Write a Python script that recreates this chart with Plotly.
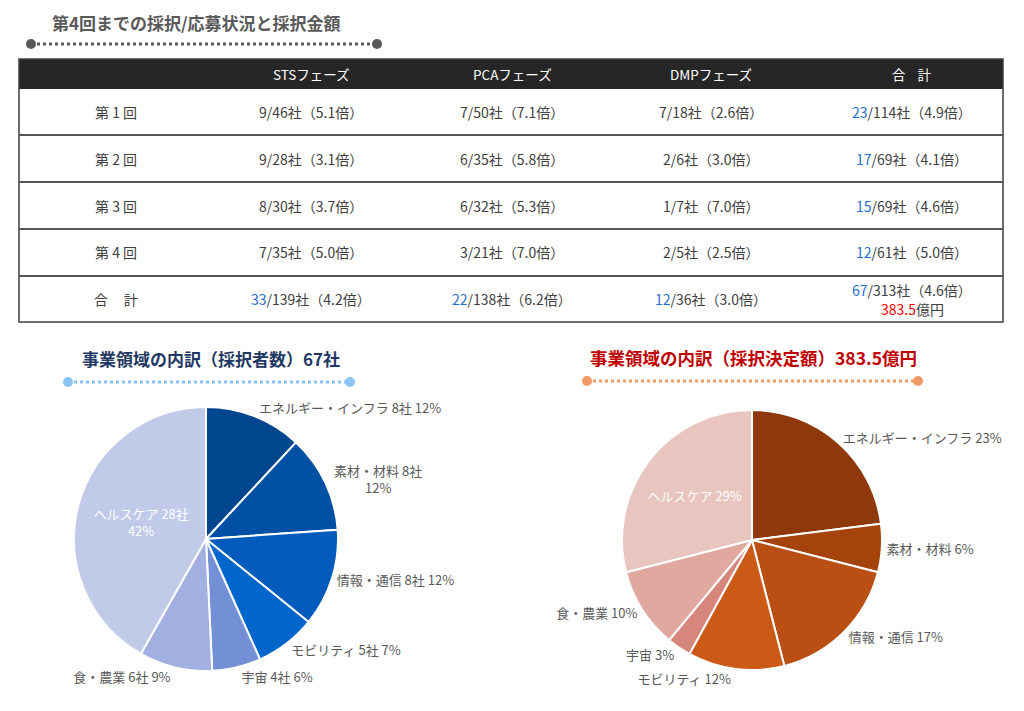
import plotly.graph_objects as go

# ---------------- data ----------------
rounds = ["第\u00a01\u00a0回", "第\u00a02\u00a0回", "第\u00a03\u00a0回", "第\u00a04\u00a0回"]
total_label = "合\u00a0\u00a0\u00a0\u00a0\u00a0計"
phases = ["STSフェーズ", "PCAフェーズ", "DMPフェーズ", "合\u00a0\u00a0\u00a0\u00a0計"]

sts_adopted = [9, 9, 8, 7]
sts_applied = [46, 28, 30, 35]
sts_ratio = ["5.1", "3.1", "3.7", "5.0"]
pca_adopted = [7, 6, 6, 3]
pca_applied = [50, 35, 32, 21]
pca_ratio = ["7.1", "5.8", "5.3", "7.0"]
dmp_adopted = [7, 2, 1, 2]
dmp_applied = [18, 6, 7, 5]
dmp_ratio = ["2.6", "3.0", "7.0", "2.5"]
sum_adopted = [23, 17, 15, 12]
sum_applied = [114, 69, 69, 61]
sum_ratio = ["4.9", "4.1", "4.6", "5.0"]

col_total_adopted = [33, 22, 12, 67]
col_total_applied = [139, 138, 36, 313]
col_total_ratio = ["4.2", "6.2", "3.0", "4.6"]
total_amount = "383.5"

sectors = ["エネルギー・インフラ", "素材・材料", "情報・通信", "モビリティ", "宇宙", "食・農業", "ヘルスケア"]
count_values = [8, 8, 8, 5, 4, 6, 28]
amount_share = [23, 6, 17, 12, 3, 10, 29]

blue_colors = ["#00468E", "#0051A6", "#005BBD", "#0066CC", "#7390D6", "#A1B0E1", "#C1CAE9"]
orange_colors = ["#8E380B", "#A5430D", "#B94F12", "#CC5A17", "#D6867A", "#E0A89F", "#E8C5BF"]

W, H = 1024, 711
def px(x):
    return x / W
def py(y):
    return 1 - y / H

TXT = "#404040"
BLUE = "#1F6FD0"
RED = "#FF0000"
FONT = "Noto Sans CJK JP"

fig = go.Figure()

# ---------------- pies ----------------
left_tt = []
left_pos = []
for s, v in zip(sectors, count_values):
    if s == "ヘルスケア":
        left_tt.append("%{label} %{value}社<br>%{percent:.0%}")
        left_pos.append("inside")
    elif s == "素材・材料":
        left_tt.append("%{label} %{value}社<br>%{percent:.0%}")
        left_pos.append("outside")
    else:
        left_tt.append("%{label} %{value}社 %{percent:.0%}")
        left_pos.append("outside")

fig.add_trace(go.Pie(
    labels=sectors, values=count_values, sort=False, direction="clockwise", rotation=0,
    marker=dict(colors=blue_colors, line=dict(color="white", width=2)),
    texttemplate=left_tt, textposition=left_pos, insidetextorientation="horizontal",
    outsidetextfont=dict(color="#595959", size=13, family=FONT),
    insidetextfont=dict(color="white", size=13, family=FONT),
    domain=dict(x=[px(74), px(338)], y=[py(671), py(407)]),
    showlegend=False, hoverinfo="label+value+percent",
))

right_pos = ["inside" if s == "ヘルスケア" else "outside" for s in sectors]
fig.add_trace(go.Pie(
    labels=sectors, values=amount_share, sort=False, direction="clockwise", rotation=0,
    marker=dict(colors=orange_colors, line=dict(color="white", width=2)),
    texttemplate="%{label} %{value}%", textposition=right_pos, insidetextorientation="horizontal",
    outsidetextfont=dict(color="#595959", size=13, family=FONT),
    insidetextfont=dict(color="white", size=13, family=FONT),
    domain=dict(x=[px(622), px(882)], y=[py(670), py(410)]),
    showlegend=False, hoverinfo="label+percent",
))

shapes = []
annotations = []

def ann(x, y, text, size=14, color=TXT, bold=False, xanchor="center"):
    if bold:
        text = "<b>" + text + "</b>"
    annotations.append(dict(x=px(x), y=py(y), xref="paper", yref="paper", text=text,
                            showarrow=False, xanchor=xanchor, yanchor="middle",
                            font=dict(size=size, color=color, family=FONT)))

def dotted(x0, x1, y, color, r=5):
    shapes.append(dict(type="line", xref="paper", yref="paper", x0=px(x0), x1=px(x1),
                       y0=py(y), y1=py(y), line=dict(color=color, width=3, dash="dot")))
    for xc in (x0, x1):
        shapes.append(dict(type="circle", xref="paper", yref="paper", x0=px(xc - r), x1=px(xc + r),
                           y0=py(y - r), y1=py(y + r), fillcolor=color, line=dict(width=0)))

# ---------------- title ----------------
ann(50, 22, "第4回までの採択/応募状況と採択金額", size=17, color="#595959", bold=True, xanchor="left")
dotted(31, 377, 44, "#595959")

# ---------------- table ----------------
tx0, tx1 = 19, 1003
ty0, thead, ty1 = 59, 89, 322
row_edges = [89, 135, 182, 229, 276, 322]
col_centers = [116, 311, 512, 711, 912]

shapes.append(dict(type="rect", xref="paper", yref="paper", x0=px(tx0), x1=px(tx1), y0=py(ty0), y1=py(thead),
                   fillcolor="#262626", line=dict(width=0)))
shapes.append(dict(type="rect", xref="paper", yref="paper", x0=px(tx0), x1=px(tx1), y0=py(ty0), y1=py(ty1),
                   fillcolor="rgba(0,0,0,0)", line=dict(color="#404040", width=1.5)))
for ye in row_edges[1:-1]:
    shapes.append(dict(type="line", xref="paper", yref="paper", x0=px(tx0), x1=px(tx1), y0=py(ye), y1=py(ye),
                       line=dict(color="#555555", width=2)))

for i, p in enumerate(phases):
    ann(col_centers[i + 1], 74, p, size=13.5, color="white")

def cell(a, b, r):
    return f"{a}/{b}社（{r}倍）"

def cell_blue(a, b, r):
    return f"<span style='color:{BLUE}'>{a}</span>/{b}社（{r}倍）"

for i, rname in enumerate(rounds):
    yc = (row_edges[i] + row_edges[i + 1]) / 2
    ann(col_centers[0], yc, rname)
    ann(col_centers[1], yc, cell(sts_adopted[i], sts_applied[i], sts_ratio[i]))
    ann(col_centers[2], yc, cell(pca_adopted[i], pca_applied[i], pca_ratio[i]))
    ann(col_centers[3], yc, cell(dmp_adopted[i], dmp_applied[i], dmp_ratio[i]))
    ann(col_centers[4], yc, cell_blue(sum_adopted[i], sum_applied[i], sum_ratio[i]))

yt = (row_edges[4] + row_edges[5]) / 2
ann(col_centers[0], yt, total_label)
for j in range(3):
    ann(col_centers[j + 1], yt, cell_blue(col_total_adopted[j], col_total_applied[j], col_total_ratio[j]))
ann(col_centers[4], 290, cell_blue(col_total_adopted[3], col_total_applied[3], col_total_ratio[3]))
ann(col_centers[4], 309, f"<span style='color:{RED}'>{total_amount}</span>億円")

# ---------------- pie titles ----------------
ann(80, 358, f"事業領域の内訳（採択者数）{sum(count_values)}社", size=17, color="#1F3864", bold=True, xanchor="left")
dotted(68, 350, 382, "#8CC3F7")
ann(588, 357, f"事業領域の内訳（採択決定額）{total_amount}億円", size=17.5, color="#C00000", bold=True, xanchor="left")
dotted(587, 918, 381, "#F29B69")

fig.update_layout(
    width=W, height=H, margin=dict(l=0, r=0, t=0, b=0),
    paper_bgcolor="white", plot_bgcolor="white",
    shapes=shapes, annotations=annotations,
    font=dict(family=FONT, color=TXT),
)

fig.write_html("out.html", config={"displayModeBar": False},
               post_script="document.body.style.margin='0px';")
